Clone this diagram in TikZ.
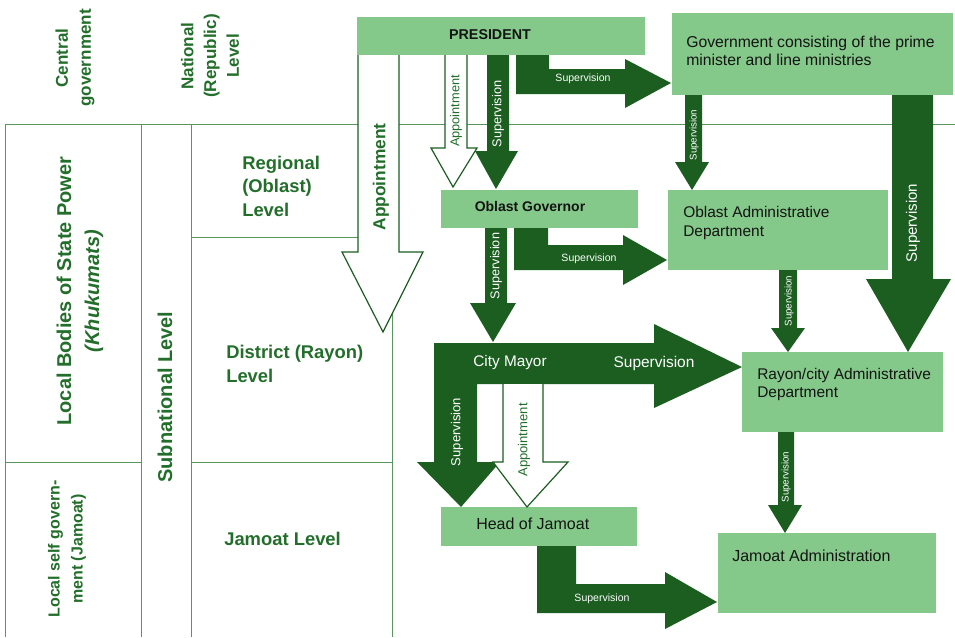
\documentclass[tikz,border=0pt]{standalone}
\usepackage{fontspec}
\setmainfont{Liberation Sans}
\usepackage{xcolor}
\usepackage{tikz}

\definecolor{boxgreen}{RGB}{133,201,138}
\definecolor{darkgreen}{RGB}{27,94,32}
\definecolor{labelgreen}{RGB}{34,110,42}
\definecolor{gridgreen}{RGB}{88,150,94}
\definecolor{boxtext}{RGB}{20,20,20}

\newcommand{\fsz}[1]{\fontsize{#1}{1.25\dimexpr#1pt\relax}\selectfont}

\tikzset{
    grid line/.style={draw=gridgreen, line width=0.6pt},
    level text/.style={text=labelgreen, inner sep=0pt, align=left, anchor=west,
        font=\bfseries\fontsize{13.8}{17.6}\selectfont},
    side text/.style={text=labelgreen, inner sep=0pt, align=center, rotate=90},
    box text/.style={text=boxtext, inner sep=0pt, align=left, anchor=west},
    dark arrow/.style={fill=darkgreen},
    light arrow/.style={fill=white, draw=darkgreen, line width=0.9pt, line join=miter},
    arrow text/.style={text=white, inner sep=0pt},
}

\begin{document}
\begin{tikzpicture}[x=0.75pt, y=-0.75pt]
    \useasboundingbox (0,0) rectangle (955,637);
    % table of levels
    \draw[grid line]
(5,637) --
(5,124) --
(955,124);
    \draw[grid line] (141,124) -- (141,637);
    \draw[grid line] (191,124) -- (191,637);
    \draw[grid line] (392,124) -- (392,637);
    \draw[grid line] (191,237) -- (358,237);
    \draw[grid line] (5,462) -- (141,462);
    \draw[grid line] (191,462) -- (392,462);

    \node[side text, font=\bfseries\fontsize{12.8}{17.2}\selectfont] (central) at (75,58) {Central\\government};
    \node[side text, font=\bfseries\fontsize{12.8}{17}\selectfont] (national) at (210,56) {National\\(Republic)\\Level};
    \node[side text, font=\bfseries\fontsize{15}{21}\selectfont] (khukumats) at (80,291) {Local Bodies of State Power\\\textit{(Khukumats)}};
    \node[side text, font=\bfseries\fontsize{12}{17.2}\selectfont] (jamoatgov) at (67,549) {Local self govern-\\ment (Jamoat)};
    \node[side text, font=\bfseries\fontsize{15}{18}\selectfont] (subnational) at (165,397) {Subnational Level};

    \node[level text] (regional) at (242,186) {Regional\\(Oblast)\\Level};
    \node[level text] (district) at (226,364) {District (Rayon)\\Level};
    \node[level text] (jamoatlvl) at (224,539) {Jamoat Level};

    % boxes
    \fill[boxgreen] (357,17) rectangle (645,55);
    \fill[boxgreen] (672,13) rectangle (953,95);
    \fill[boxgreen] (441,190) rectangle (638,228);
    \fill[boxgreen] (668,190) rectangle (888,270);
    \fill[boxgreen] (742,352) rectangle (943,432);
    \fill[boxgreen] (441,507) rectangle (637,546);
    \fill[boxgreen] (718,533) rectangle (936,613);

    \node[text=boxtext, font=\bfseries\fontsize{10.7}{13}\selectfont] (president) at (490,35) {PRESIDENT};
    \node[box text, font=\fontsize{11.8}{13.5}\selectfont] (government) at (686,51) {Government consisting of the prime\\minister and line ministries};
    \node[text=boxtext, font=\bfseries\fontsize{10.5}{13}\selectfont] (governor) at (530,206) {Oblast Governor};
    \node[box text, font=\fontsize{11.6}{14.2}\selectfont] (oblastadm) at (683,223) {Oblast Administrative\\Department};
    \node[box text, font=\fontsize{11.6}{13.5}\selectfont] (rayonadm) at (757,384) {Rayon/city Administrative\\Department};
    \node[box text, font=\fontsize{12}{14}\selectfont] (headjamoat) at (476,524) {Head of Jamoat};
    \node[box text, font=\fontsize{12}{14}\selectfont] (jamoatadm) at (732,556) {Jamoat Administration};

    % appointment arrows
    \draw[light arrow]
(358,55) --
(358,252) --
(342,252) --
(383,332) --
(423,252) --
(399,252) --
(399,55);
    \draw[light arrow]
(445,55) --
(445,148) --
(431,148) --
(453,187) --
(477,148) --
(467,148) --
(467,55);

    % supervision arrows
    \fill[dark arrow]
(487,55) --
(509,55) --
(509,151) --
(518,151) --
(496,189) --
(475,151) --
(487,151) --
cycle;
    \fill[dark arrow]
(516,55) --
(549,55) --
(549,69) --
(625,69) --
(625,59) --
(671,83) --
(625,108) --
(625,94) --
(516,94) --
cycle;
    \fill[dark arrow]
(685,95) --
(702,95) --
(702,162) --
(709,162) --
(692,190) --
(675,162) --
(685,162) --
cycle;
    \fill[dark arrow]
(892,95) --
(933,95) --
(933,279) --
(951,279) --
(908,352) --
(866,279) --
(892,279) --
cycle;
    \fill[dark arrow]
(485,228) --
(507,228) --
(507,303) --
(516,303) --
(493,342) --
(470,303) --
(485,303) --
cycle;
    \fill[dark arrow]
(514,228) --
(548,228) --
(548,245) --
(623,245) --
(623,235) --
(667,260) --
(623,285) --
(623,270) --
(514,270) --
cycle;
    \fill[dark arrow]
(779,270) --
(797,270) --
(797,328) --
(805,328) --
(788,352) --
(771,328) --
(779,328) --
cycle;
    \fill[dark arrow]
(434,343) --
(654,343) --
(654,324) --
(742,367) --
(654,408) --
(654,384) --
(477,384) --
(477,462) --
(500,462) --
(461,507) --
(417,462) --
(434,462) --
cycle;
    \draw[light arrow]
(503,384) --
(503,462) --
(493,462) --
(527,507) --
(568,462) --
(543,462) --
(543,384);
    \fill[dark arrow]
(537,546) --
(576,546) --
(576,584) --
(665,584) --
(665,572) --
(717,602) --
(665,629) --
(665,613) --
(537,613) --
cycle;
    \fill[dark arrow]
(778,432) --
(794,432) --
(794,505) --
(802,505) --
(785,533) --
(768,505) --
(778,505) --
cycle;

    % arrow labels
    \node[side text, font=\bfseries\fontsize{13}{15}\selectfont] (appoint1) at (381,177) {Appointment};
    \node[side text, font=\fontsize{9.6}{11}\selectfont] (appoint2) at (456,111) {Appointment};
    \node[side text, font=\fontsize{9.8}{11}\selectfont] (appoint3) at (524,440) {Appointment};
    \node[arrow text, rotate=90, font=\fontsize{9.6}{11}\selectfont] (sup1) at (498,114) {Supervision};
    \node[arrow text, font=\fontsize{7.9}{9}\selectfont] (sup2) at (583,79) {Supervision};
    \node[arrow text, rotate=90, font=\fontsize{7.3}{9}\selectfont] (sup3) at (694,135) {Supervision};
    \node[arrow text, rotate=90, font=\fontsize{11.3}{13}\selectfont] (sup4) at (913,223) {Supervision};
    \node[arrow text, rotate=90, font=\fontsize{9.5}{11}\selectfont] (sup5) at (496,266) {Supervision};
    \node[arrow text, font=\fontsize{7.9}{9}\selectfont] (sup6) at (589,259) {Supervision};
    \node[arrow text, rotate=90, font=\fontsize{7.3}{9}\selectfont] (sup7) at (789,301) {Supervision};
    \node[arrow text, font=\fontsize{11.5}{13}\selectfont] (mayor) at (510,363) {City Mayor};
    \node[arrow text, font=\fontsize{11.6}{13}\selectfont] (sup8) at (654,363) {Supervision};
    \node[arrow text, rotate=90, font=\fontsize{9.8}{11}\selectfont] (sup9) at (457,432) {Supervision};
    \node[arrow text, font=\fontsize{7.9}{9}\selectfont] (sup10) at (602,599) {Supervision};
    \node[arrow text, rotate=90, font=\fontsize{7.3}{9}\selectfont] (sup11) at (786,477) {Supervision};
\end{tikzpicture}
\end{document}
